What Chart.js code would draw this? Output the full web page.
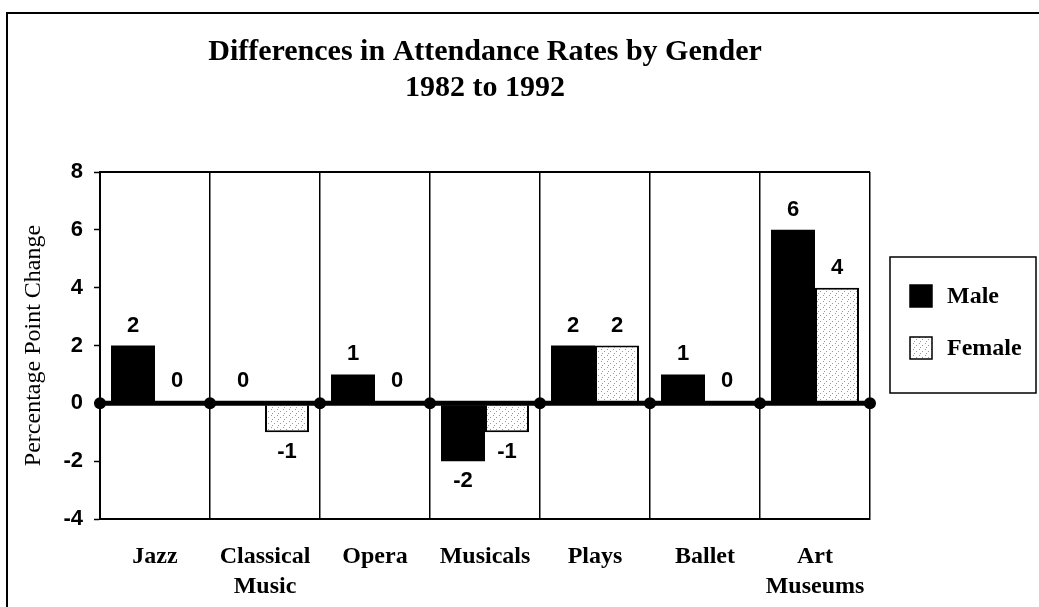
<!DOCTYPE html>
<html>
<head>
<meta charset="utf-8">
<script src="https://cdn.jsdelivr.net/npm/chart.js@4/dist/chart.umd.min.js"></script>
<style>
  body { margin: 0; background: #fff; }
  #wrap { position: relative; width: 1039px; height: 607px; }
</style>
</head>
<body>
<div id="wrap"><canvas id="attChart"></canvas></div>
<script>
const categories = ['Jazz', ['Classical', 'Music'], 'Opera', 'Musicals', 'Plays', 'Ballet', ['Art', 'Museums']];
const maleValues = [2, 0, 1, -2, 2, 1, 6];
const femaleValues = [0, -1, 0, -1, 2, 0, 4];
const yTicks = [-4, -2, 0, 2, 4, 6, 8];

// light stipple used for the female bars
function stipple() {
  const c = document.createElement('canvas');
  c.width = 6; c.height = 6;
  const g = c.getContext('2d');
  g.fillStyle = '#fff';
  g.fillRect(0, 0, 6, 6);
  g.fillStyle = '#9a9a9a';
  g.fillRect(1, 1, 1, 1);
  g.fillRect(4, 3, 1, 1);
  g.fillRect(2, 5, 1, 1);
  return g.createPattern(c, 'repeat');
}
const femaleFill = stipple();

const serif = "'Liberation Serif', 'DejaVu Serif', serif";
const sans = "'Liberation Sans', Arial, sans-serif";

const framePlugin = {
  id: 'frame',
  beforeDatasetsDraw(chart) {
    const { ctx, chartArea: a } = chart;
    ctx.save();
    ctx.strokeStyle = '#000';
    ctx.lineWidth = 2;
    ctx.beginPath();
    ctx.moveTo(a.left, a.top);
    ctx.lineTo(a.right, a.top);
    ctx.stroke();
    ctx.restore();
  },
  afterDraw(chart) {
    const { ctx, chartArea: a, scales } = chart;
    const x = scales.x, y = scales.y;
    const y0 = y.getPixelForValue(0);
    const step = x.getPixelForValue(1) - x.getPixelForValue(0);
    ctx.save();
    // zero line over the bars
    ctx.strokeStyle = '#000';
    ctx.lineWidth = 5;
    ctx.beginPath();
    ctx.moveTo(a.left, y0);
    ctx.lineTo(a.right, y0);
    ctx.stroke();
    ctx.fillStyle = '#000';
    for (let i = 0; i <= categories.length; i++) {
      const bx = x.getPixelForValue(0) - step / 2 + i * step;
      ctx.beginPath();
      ctx.arc(bx, y0, 6, 0, Math.PI * 2);
      ctx.fill();
    }
    // value labels
    ctx.font = 'bold 22px ' + sans;
    ctx.textAlign = 'center';
    ctx.textBaseline = 'middle';
    chart.data.datasets.forEach((ds, di) => {
      chart.getDatasetMeta(di).data.forEach((el, i) => {
        const v = ds.data[i];
        let ty;
        if (v > 0) ty = el.y - 20;
        else if (v < 0) ty = el.y + 20;
        else ty = y0 - 22;
        ctx.fillText(String(v), el.x, ty);
      });
    });
    // outer frame (only top and left edges show)
    ctx.lineWidth = 2;
    ctx.beginPath();
    ctx.moveTo(7, 607);
    ctx.lineTo(7, 13);
    ctx.lineTo(1039, 13);
    ctx.stroke();
    // legend box
    const lx = 890, ly = 257, lw = 146, lh = 136;
    ctx.lineWidth = 1.5;
    ctx.strokeRect(lx, ly, lw, lh);
    ctx.font = 'bold 24px ' + serif;
    ctx.textAlign = 'left';
    chart.data.datasets.forEach((ds, di) => {
      const cy = ly + 39 + di * 52;
      ctx.fillStyle = ds.backgroundColor;
      ctx.fillRect(lx + 20, cy - 11, 22, 22);
      ctx.lineWidth = 1.5;
      ctx.strokeStyle = '#000';
      ctx.strokeRect(lx + 20, cy - 11, 22, 22);
      ctx.fillStyle = '#000';
      ctx.fillText(ds.label, lx + 57, cy + 1);
    });
    ctx.restore();
  }
};

new Chart(document.getElementById('attChart'), {
  type: 'bar',
  data: {
    labels: categories,
    datasets: [
      { label: 'Male', data: maleValues, backgroundColor: '#000', borderColor: '#000', borderWidth: 0 },
      { label: 'Female', data: femaleValues, backgroundColor: femaleFill, borderColor: '#000', borderWidth: 2 }
    ]
  },
  options: {
    responsive: true,
    maintainAspectRatio: false,
    animation: false,
    datasets: { bar: { categoryPercentage: 0.8, barPercentage: 1.0 } },
    layout: { padding: { left: 0, right: 169, top: 0, bottom: 0 } },
    plugins: {
      legend: { display: false },
      tooltip: { enabled: false },
      title: {
        display: true,
        fullSize: false,
        text: ['Differences in Attendance Rates by Gender', '1982 to 1992'],
        color: '#000',
        font: { family: serif, size: 30, weight: 'bold', lineHeight: 1.2 },
        padding: { top: 34, bottom: 66 }
      }
    },
    scales: {
      x: {
        afterFit: (s) => { s.height = 88; },
        grid: { display: true, color: '#000', lineWidth: 1.5, drawTicks: false },
        border: { display: true, color: '#000', width: 2 },
        ticks: {
          color: '#000', padding: 23, maxRotation: 0, autoSkip: false,
          font: { family: serif, size: 24, weight: 'bold', lineHeight: 1.25 }
        }
      },
      y: {
        min: -4, max: 8,
        afterFit: (s) => { s.width = 100; },
        afterBuildTicks: (s) => { s.ticks = yTicks.map(v => ({ value: v })); },
        grid: {
          color: (c) => c.tick && c.tick.value === 0 ? '#000' : 'rgba(0,0,0,0)',
          lineWidth: (c) => c.tick && c.tick.value === 0 ? 4 : 1,
          tickColor: '#000', tickLength: 6, tickWidth: 1.5
        },
        border: { display: true, color: '#000', width: 2 },
        ticks: { color: '#000', padding: 11, font: { family: sans, size: 22, weight: 'bold' } },
        title: {
          display: true, text: 'Percentage Point Change', color: '#000',
          font: { family: serif, size: 24 }, padding: { top: 19, bottom: 0 }
        }
      }
    }
  },
  plugins: [framePlugin]
});
</script>
</body>
</html>
